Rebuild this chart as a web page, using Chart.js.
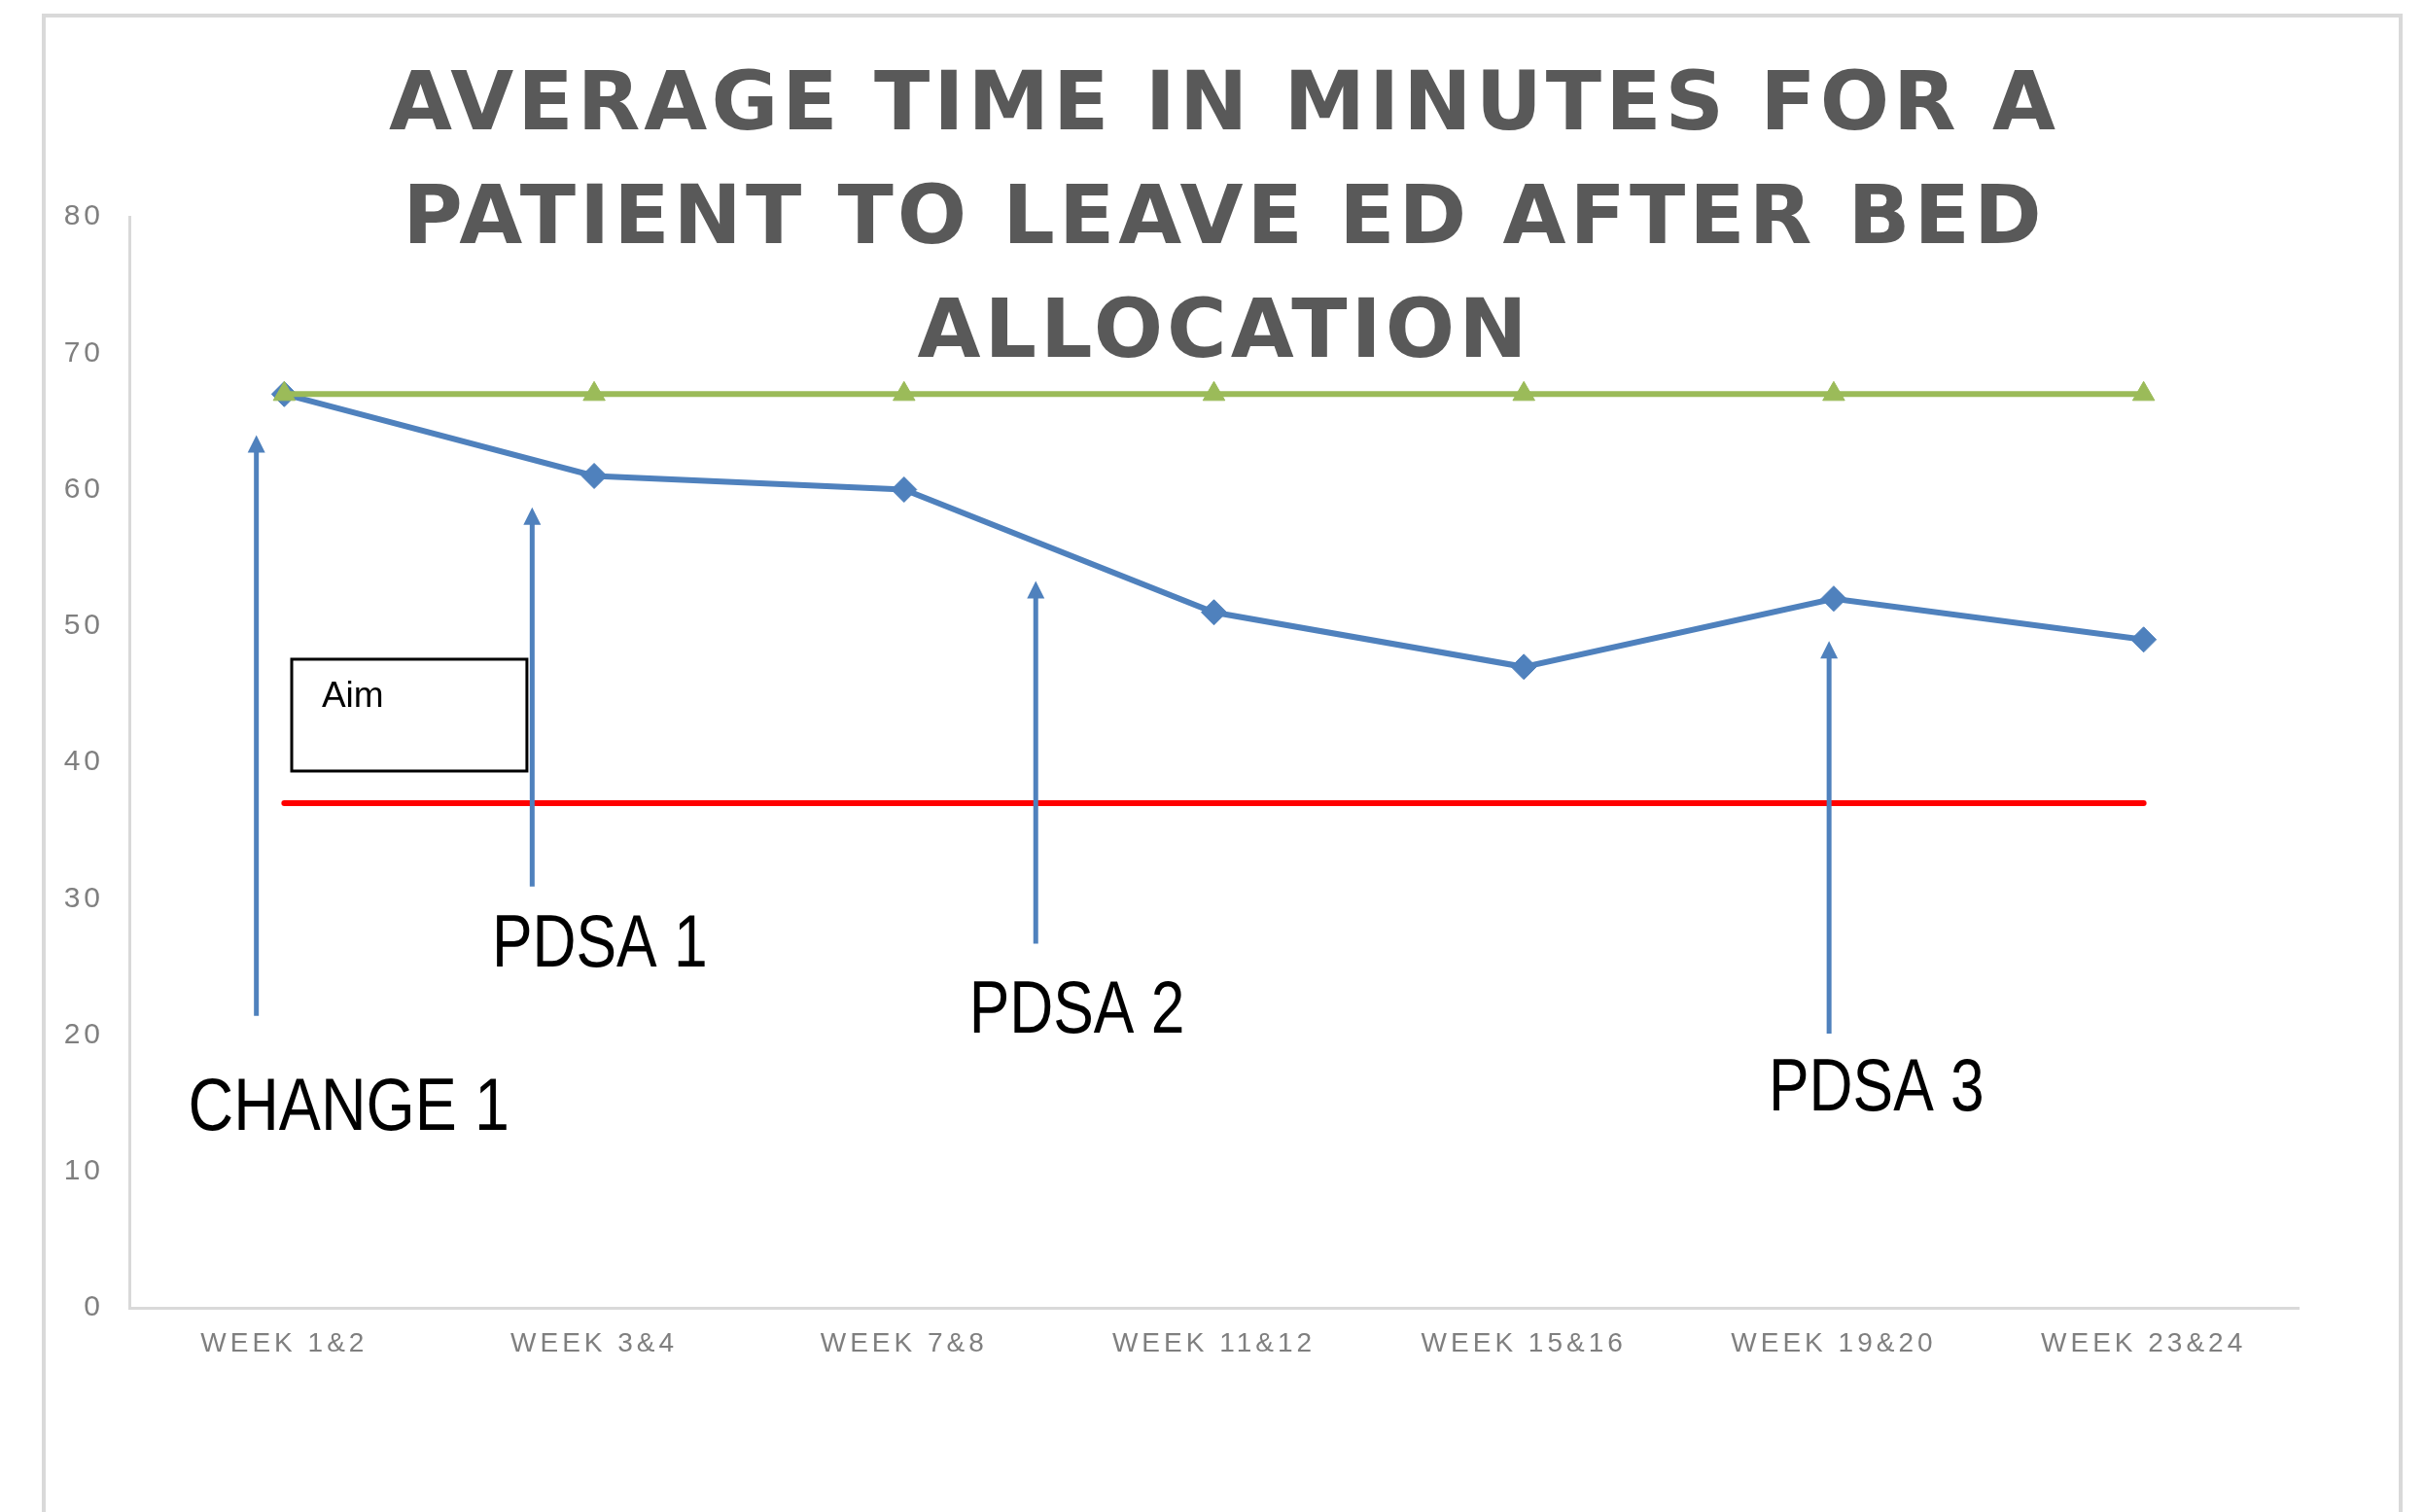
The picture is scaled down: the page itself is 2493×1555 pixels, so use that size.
<!DOCTYPE html>
<html>
<head>
<meta charset="utf-8">
<title>Average time in minutes for a patient to leave ED after bed allocation</title>
<script src="https://cdn.jsdelivr.net/npm/chart.js@4.4.1/dist/chart.umd.min.js"></script>
<style>
  html, body { margin: 0; padding: 0; background: #fff; }
  #wrap { position: relative; width: 2493px; height: 1555px; }
  canvas { display: block; }
</style>
</head>
<body>
<div id="wrap"><canvas id="edChart" width="2493" height="1555"></canvas></div>
<script>
// Chart values
const weeks = ['WEEK 1&2', 'WEEK 3&4', 'WEEK 7&8', 'WEEK 11&12', 'WEEK 15&16', 'WEEK 19&20', 'WEEK 23&24'];
const avgMinutes = [67, 61, 60, 51, 47, 52, 49];
const baselineMinutes = [67, 67, 67, 67, 67, 67, 67];
const aimMinutes = [37, 37, 37, 37, 37, 37, 37];
const yTicks = [0, 10, 20, 30, 40, 50, 60, 70, 80];

const titleLines = ['AVERAGE TIME IN MINUTES FOR A', 'PATIENT TO LEAVE ED AFTER BED', 'ALLOCATION'];

// Change / PDSA markers, in axis units (x = category index, y = minutes)
const noteLabels = ['CHANGE 1', 'PDSA 1', 'PDSA 2', 'PDSA 3'];
const noteArrowX = [-0.09, 0.80, 2.425, 4.985];
const noteArrowFrom = [21.4, 30.9, 26.7, 20.1];
const noteArrowTo = [64, 58.7, 53.3, 48.9];
const noteTextX = [-0.31, 0.67, 2.21, 4.79];
const noteTextY = [13.05, 25.0, 20.2, 14.5];

// "Aim" box, same units
const aimBoxX = [0.024, 0.783];
const aimBoxY = [39.36, 47.56];
const aimTextAt = [0.121, 44.06];
const aimLabel = 'Aim';

const BLUE = '#4f81bd';

// outer frame + letter spacing for the tick labels
const framePlugin = {
    id: 'frame',
    beforeLayout(chart) {
        chart.ctx.letterSpacing = '4px';
    },
    beforeDraw(chart) {
        const ctx = chart.ctx;
        ctx.save();
        ctx.fillStyle = '#ffffff';
        ctx.fillRect(0, 0, chart.width, chart.height);
        ctx.strokeStyle = '#d9d9d9';
        ctx.lineWidth = 4;
        ctx.strokeRect(45, 16, 2424, 1620);
        ctx.restore();
        ctx.letterSpacing = '4px';
    }
};

// big grey title that sits over the top of the plot
const titlePlugin = {
    id: 'bigTitle',
    afterDraw(chart) {
        const ctx = chart.ctx;
        const spacing = 4;
        ctx.save();
        ctx.font = 'bold 84px "DejaVu Sans"';
        ctx.letterSpacing = spacing + 'px';
        ctx.fillStyle = '#595959';
        ctx.textAlign = 'left';
        ctx.textBaseline = 'alphabetic';
        const cx = 1257;
        titleLines.forEach((line, i) => {
            const w = ctx.measureText(line).width - spacing;
            ctx.fillText(line, cx - w / 2, 133 + i * 117);
        });
        ctx.restore();
    }
};

function drawArrow(ctx, px, yFrom, yTo) {
    const headLen = 18;
    const headHalf = 9;
    ctx.strokeStyle = BLUE;
    ctx.fillStyle = BLUE;
    ctx.lineWidth = 5;
    ctx.beginPath();
    ctx.moveTo(px, yFrom);
    ctx.lineTo(px, yTo + headLen - 1);
    ctx.stroke();
    ctx.beginPath();
    ctx.moveTo(px, yTo);
    ctx.lineTo(px - headHalf, yTo + headLen);
    ctx.lineTo(px + headHalf, yTo + headLen);
    ctx.closePath();
    ctx.fill();
}

// arrows, PDSA labels and the Aim box
const notesPlugin = {
    id: 'changeNotes',
    afterDatasetsDraw(chart) {
        const { ctx, scales: { x, y } } = chart;
        ctx.save();
        ctx.letterSpacing = '0px';

        // Aim box
        const bx0 = x.getPixelForValue(aimBoxX[0]);
        const bx1 = x.getPixelForValue(aimBoxX[1]);
        const by0 = y.getPixelForValue(aimBoxY[1]);
        const by1 = y.getPixelForValue(aimBoxY[0]);
        ctx.strokeStyle = '#000000';
        ctx.lineWidth = 3;
        ctx.strokeRect(bx0, by0, bx1 - bx0, by1 - by0);
        ctx.fillStyle = '#000000';
        ctx.font = '37px "Liberation Sans", Arial, sans-serif';
        ctx.textBaseline = 'alphabetic';
        ctx.textAlign = 'left';
        ctx.fillText(aimLabel, x.getPixelForValue(aimTextAt[0]), y.getPixelForValue(aimTextAt[1]));

        // arrows
        noteArrowX.forEach((v, i) => {
            drawArrow(ctx, x.getPixelForValue(v), y.getPixelForValue(noteArrowFrom[i]), y.getPixelForValue(noteArrowTo[i]));
        });

        // labels (narrowed sans)
        ctx.font = '76px "Liberation Sans", Arial, sans-serif';
        ctx.fillStyle = '#000000';
        noteLabels.forEach((txt, i) => {
            ctx.save();
            ctx.translate(x.getPixelForValue(noteTextX[i]), y.getPixelForValue(noteTextY[i]));
            ctx.scale(i === 0 ? 0.85 : 0.82, 1);
            ctx.fillText(txt, 0, 0);
            ctx.restore();
        });
        ctx.restore();
    }
};

const ctx = document.getElementById('edChart').getContext('2d');
const chart = new Chart(ctx, {
    type: 'line',
    data: {
        labels: weeks,
        datasets: [
            {
                label: 'Average time (minutes)',
                data: avgMinutes,
                borderColor: BLUE,
                backgroundColor: BLUE,
                borderWidth: 6,
                pointStyle: 'rectRot',
                pointRadius: 13,
                pointBorderWidth: 1,
                tension: 0,
                order: 2
            },
            {
                label: 'Baseline',
                data: baselineMinutes,
                borderColor: '#9bbb59',
                backgroundColor: '#9bbb59',
                borderWidth: 6,
                pointStyle: 'triangle',
                pointRadius: 13,
                pointBorderWidth: 1,
                tension: 0,
                order: 1
            },
            {
                label: 'Aim',
                data: aimMinutes,
                borderColor: '#ff0000',
                backgroundColor: '#ff0000',
                borderWidth: 6,
                borderCapStyle: 'round',
                pointRadius: 0,
                tension: 0,
                order: 3
            }
        ]
    },
    options: {
        responsive: false,
        animation: false,
        devicePixelRatio: 1,
        layout: {
            padding: { left: 0, top: 223, right: 129, bottom: 0 }
        },
        plugins: {
            legend: { display: false },
            title: { display: false },
            tooltip: { enabled: false }
        },
        scales: {
            x: {
                type: 'category',
                offset: true,
                grid: { display: false, drawTicks: false },
                border: { display: true, color: '#d9d9d9', width: 3 },
                ticks: {
                    color: '#7f7f7f',
                    font: { family: '"Liberation Sans", Arial, sans-serif', size: 28 },
                    padding: 20,
                    autoSkip: false,
                    maxRotation: 0,
                    minRotation: 0
                },
                afterFit(scale) { scale.height = 210; }
            },
            y: {
                min: 0,
                max: 80,
                grid: { display: false, drawTicks: false },
                border: { display: true, color: '#d9d9d9', width: 3 },
                ticks: {
                    color: '#7f7f7f',
                    font: { family: '"Liberation Sans", Arial, sans-serif', size: 30 },
                    padding: 26,
                    stepSize: 10
                },
                afterBuildTicks(scale) {
                    scale.ticks = yTicks.map(v => ({ value: v }));
                },
                afterFit(scale) { scale.width = 133; }
            }
        }
    },
    plugins: [framePlugin, titlePlugin, notesPlugin]
});
</script>
</body>
</html>
